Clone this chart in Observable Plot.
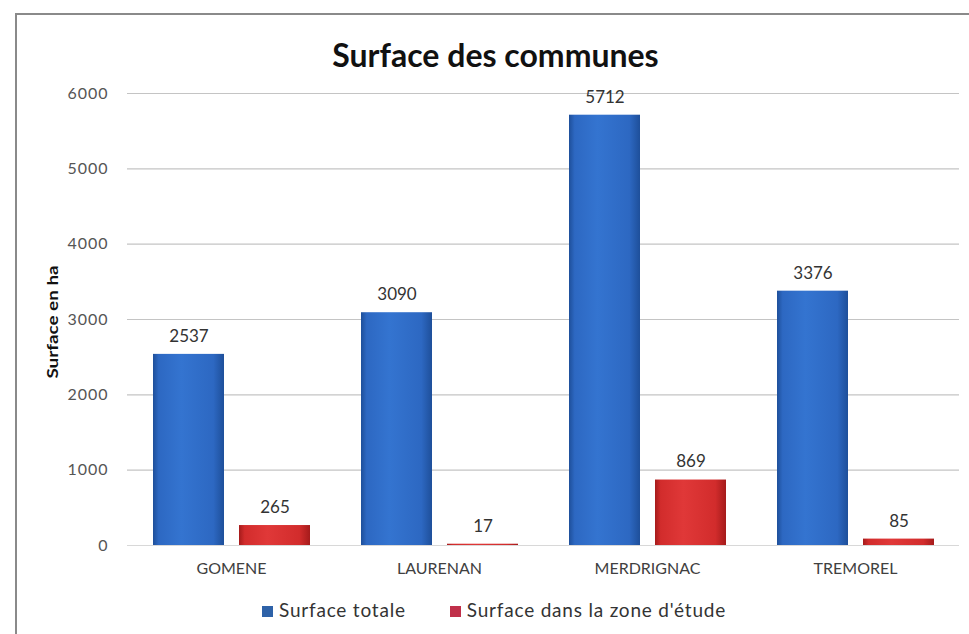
<!DOCTYPE html>
<html>
<head>
<meta charset="utf-8">
<script src="https://cdn.jsdelivr.net/npm/d3@7"></script>
<script src="https://cdn.jsdelivr.net/npm/@observablehq/plot@0.6"></script>
<style>
  html, body { margin: 0; padding: 0; background: #fff; }
  #wrap { position: relative; width: 969px; height: 634px; overflow: hidden; font-family: Lato, "Open Sans", sans-serif; }
  #frame { position: absolute; left: 15px; top: 13px; width: 1000px; height: 700px; border-left: 2px solid #8a8a8a; border-top: 2px solid #8a8a8a; box-sizing: border-box; }
  #title { position: absolute; left: 11px; width: 969px; top: 36px; text-align: center; font-size: 32px; font-weight: 700; color: #111; line-height: 38px; }
  #ylab { position: absolute; left: 52px; top: 322px; transform: translate(-50%, -50%) rotate(-90deg) scale(1.3, 1); font-size: 14.5px; font-weight: 700; color: #111; white-space: nowrap; }
  #legend { position: absolute; top: 598px; left: 262px; display: flex; gap: 44px; font-size: 19px; letter-spacing: 0.8px; color: #333; line-height: 24px; }
  #legend span.sw { display: inline-block; width: 11px; height: 11px; margin-right: 6px; vertical-align: 0px; }
  #chart { position: absolute; left: 0; top: 0; }
</style>
</head>
<body>
<div id="wrap">
  <div id="frame"></div>
  <div id="chart"></div>
  <div id="title">Surface des communes</div>
  <div id="ylab">Surface en ha</div>
  <div id="legend"></div>
</div>
<script>
const communes = ["GOMENE", "LAURENAN", "MERDRIGNAC", "TREMOREL"];
const surfaceTotale = [2537, 3090, 5712, 3376];
const surfaceZone = [265, 17, 869, 85];
const seriesNames = ["Surface totale", "Surface dans la zone d'étude"];
const yTicks = [0, 1000, 2000, 3000, 4000, 5000, 6000];
const seriesColors = ["#2e62a8", "#c0304a"];

const data = communes.flatMap((c, i) => [
  {commune: c, series: seriesNames[0], value: surfaceTotale[i]},
  {commune: c, series: seriesNames[1], value: surfaceZone[i]}
]);

const svg = Plot.plot({
  width: 969,
  height: 634,
  marginLeft: 125,
  marginRight: 9,
  marginTop: 93,
  marginBottom: 89,
  style: {fontFamily: "Lato, 'Open Sans', sans-serif", background: "transparent", fontSize: "16px", overflow: "visible"},
  fx: {domain: communes, padding: 0, label: null, axis: "bottom", tickSize: 0, tickPadding: 17},
  x: {domain: seriesNames, axis: null, paddingInner: 0.18, paddingOuter: 0.29},
  y: {domain: [0, 6000], ticks: yTicks, tickSize: 0, tickPadding: 19, label: null, tickFormat: d => String(d)},
  color: {domain: seriesNames, range: ["url(#gBlue)", "url(#gRed)"]},
  marks: [
    Plot.ruleY(yTicks, {stroke: d => d === 0 ? "#d8d8d8" : "#c4c4c4", strokeWidth: 1.2}),
    Plot.barY(data, {fx: "commune", x: "series", y: "value", fill: "series"}),
    Plot.text(data, {fx: "commune", x: "series", y: "value", text: d => String(d.value), dy: -18, fontSize: 17, fill: "#333"})
  ]
});

// gradients for the bars
const defs = d3.select(svg).insert("defs", ":first-child");
function grad(id, edge, mid, light) {
  const g = defs.append("linearGradient").attr("id", id).attr("x1", "0").attr("x2", "1").attr("y1", "0").attr("y2", "0");
  g.append("stop").attr("offset", "0%").attr("stop-color", edge);
  g.append("stop").attr("offset", "8%").attr("stop-color", mid);
  g.append("stop").attr("offset", "40%").attr("stop-color", light);
  g.append("stop").attr("offset", "85%").attr("stop-color", mid);
  g.append("stop").attr("offset", "100%").attr("stop-color", edge);
}
grad("gBlue", "#1e4f9a", "#2d68c2", "#3474d0");
grad("gRed", "#a51b1b", "#d22c2c", "#e03838");

const s = d3.select(svg);
s.selectAll('g[aria-label="y-axis tick label"]').attr("fill", "#555").style("letter-spacing", "1px");
s.selectAll('g[aria-label="fx-axis tick label"]').attr("fill", "#404040");

document.getElementById("chart").appendChild(svg);

const legend = document.getElementById("legend");
seriesNames.forEach((name, i) => {
  const item = document.createElement("div");
  const sw = document.createElement("span");
  sw.className = "sw";
  sw.style.background = seriesColors[i];
  item.appendChild(sw);
  item.appendChild(document.createTextNode(name));
  legend.appendChild(item);
});
</script>
</body>
</html>
